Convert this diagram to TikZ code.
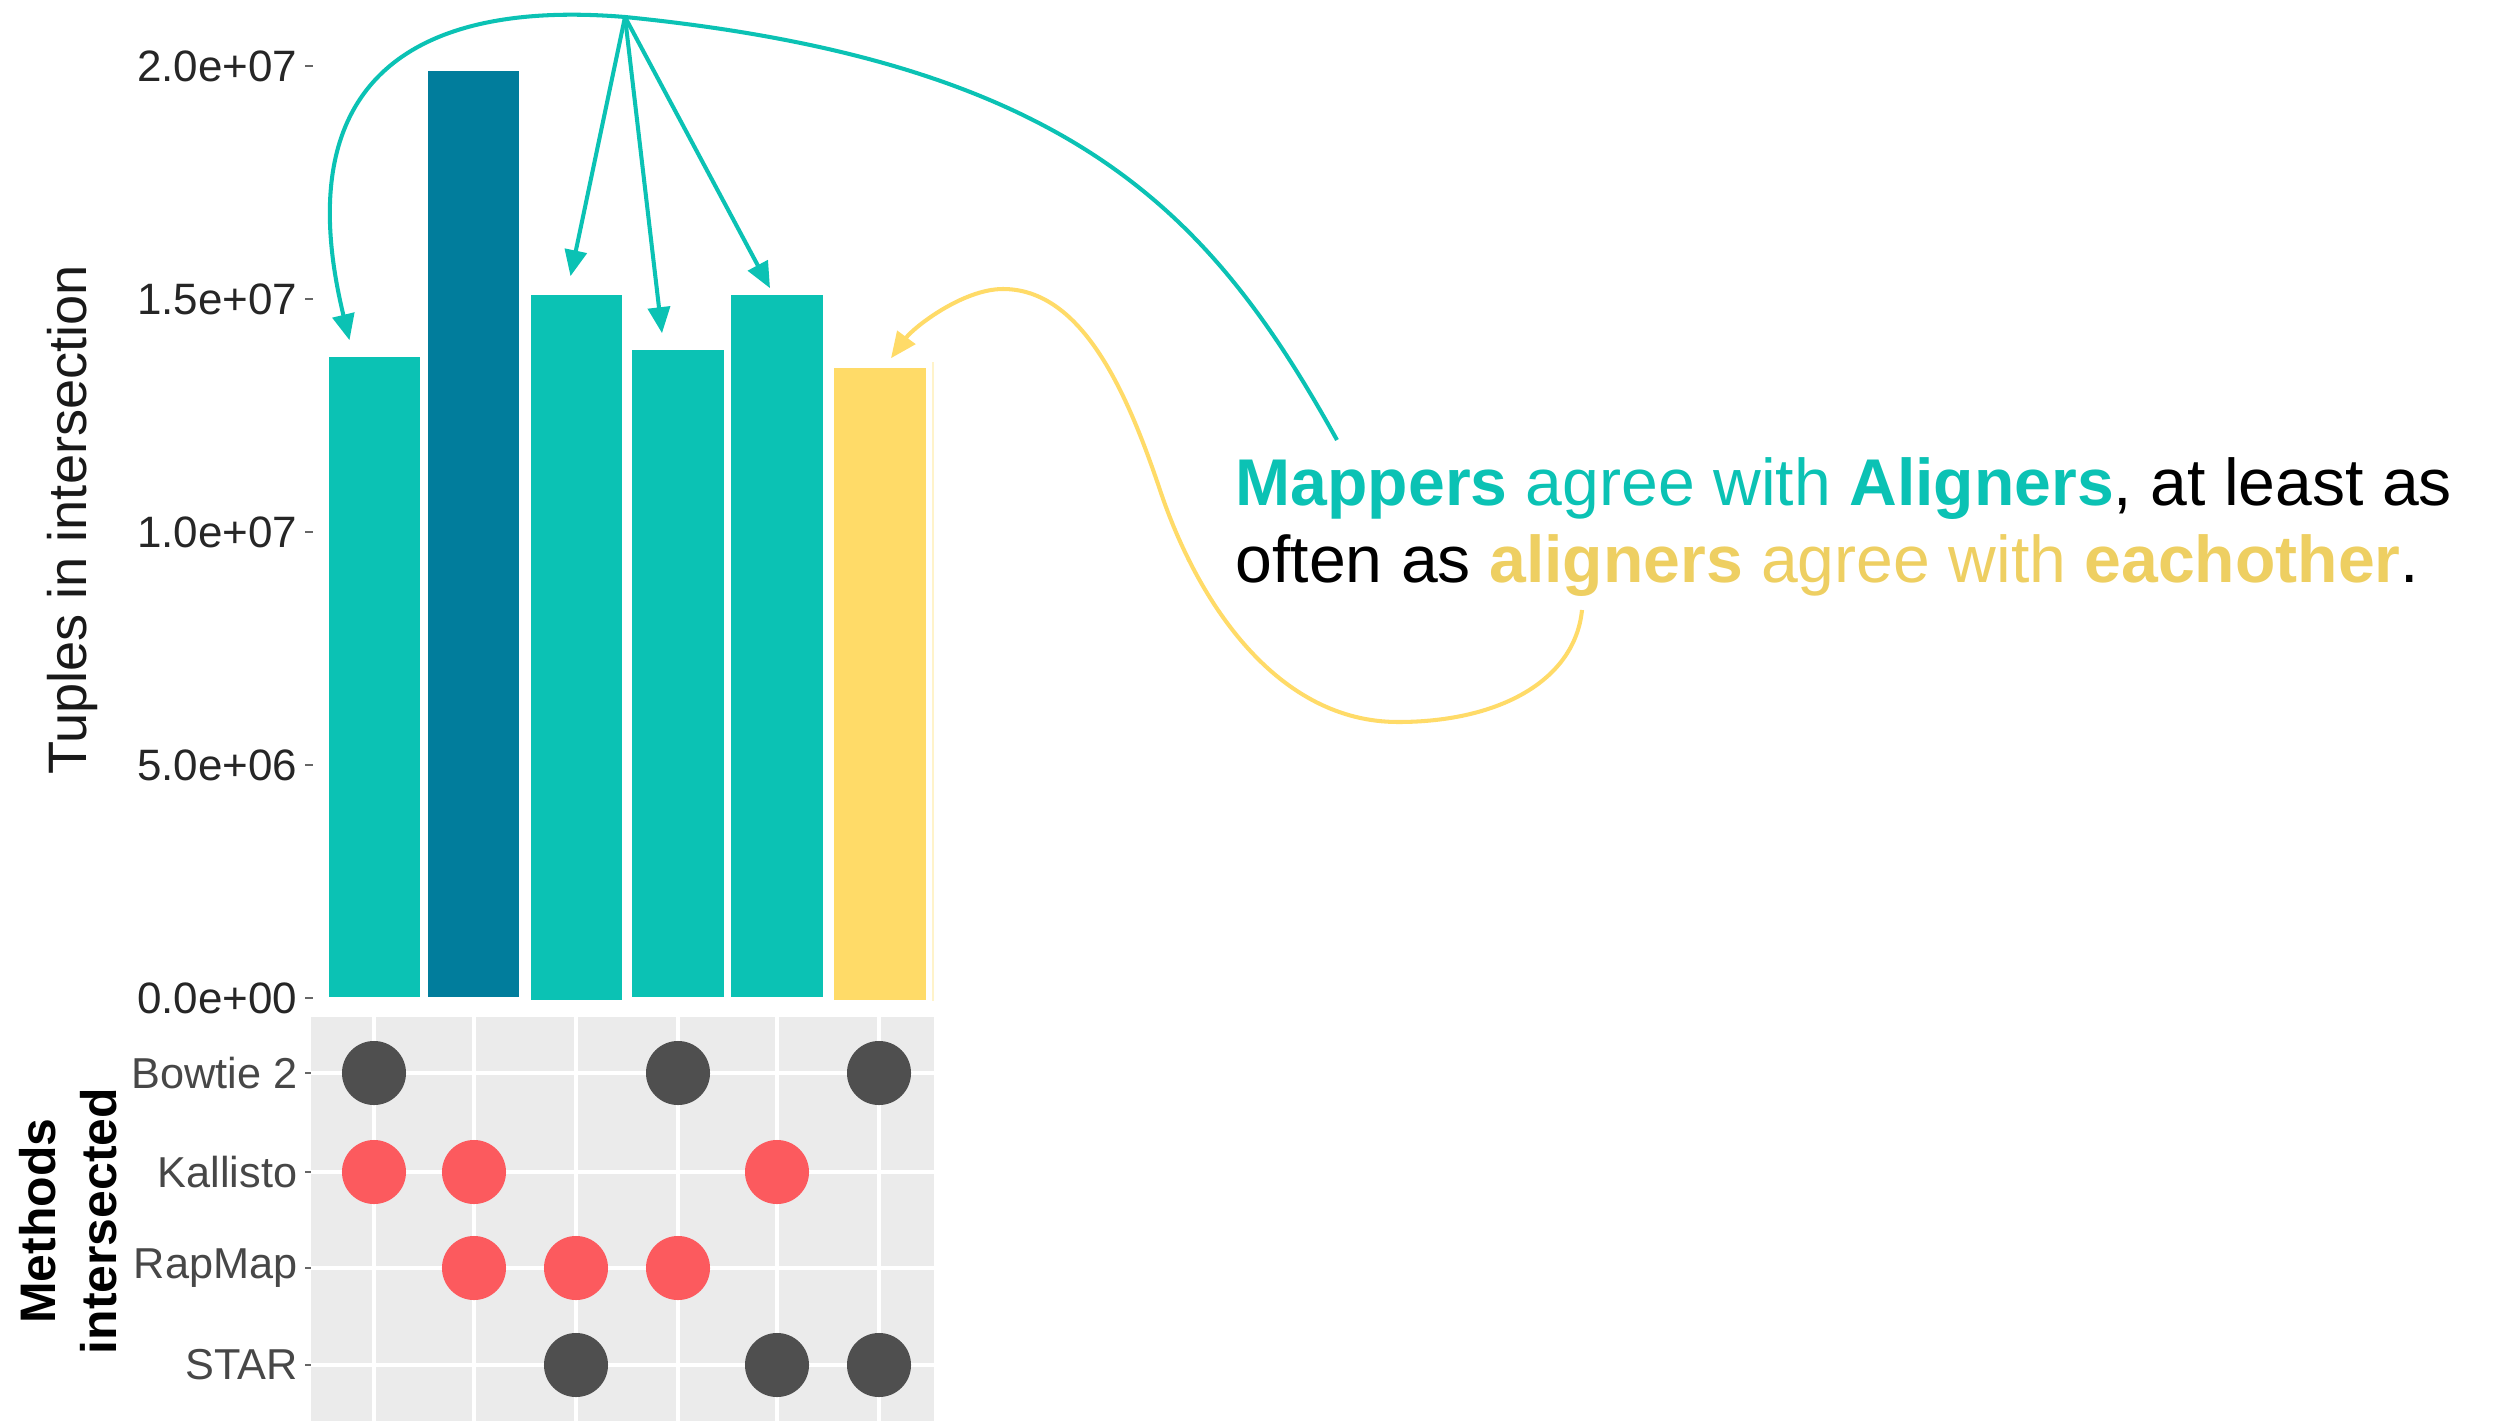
\documentclass[tikz,border=0pt]{standalone}
\usepackage{fontspec}
\setmainfont{Liberation Sans}
\usetikzlibrary{arrows.meta, positioning, calc}

\definecolor{mapteal}{HTML}{0BC2B4}
\definecolor{mapdark}{HTML}{017D9C}
\definecolor{alyellow}{HTML}{FFDB68}
\definecolor{altext}{HTML}{EECF62}
\definecolor{dotred}{HTML}{FC5A5E}
\definecolor{dotgrey}{HTML}{4F4F4F}
\definecolor{panelgrey}{HTML}{EBEBEB}

\begin{document}
\begin{tikzpicture}[
        x=0.01cm, y=-0.01cm,
        tuplebar/.style={rectangle, anchor=south, inner sep=0pt, minimum width=0.91cm},
        ticklab/.style={anchor=east, inner sep=0pt, text=black!85, font=\fontsize{12.5pt}{14pt}\selectfont},
        setlab/.style={anchor=east, inner sep=0pt, text=black!72, font=\fontsize{12.3pt}{14pt}\selectfont},
        setdot/.style={circle, inner sep=0pt, minimum size=0.64cm},
        note/.style={anchor=base west, inner sep=0pt, font=\fontsize{18.8pt}{22pt}\selectfont},
        pointer/.style={draw=mapteal, line width=1.15pt, -{Triangle[length=0.26cm, width=0.22cm]}},
        alpointer/.style={draw=alyellow, line width=1.15pt, -{Triangle[length=0.26cm, width=0.22cm]}}
    ]
        \useasboundingbox (0,0) rectangle (2493,1421);

        % bars
        \node[tuplebar, fill=mapteal, minimum height=6.40cm] (bar1) at (374.5,998) {};
        \node[tuplebar, fill=mapdark, minimum height=9.26cm] (bar2) at (473.5,998) {};
        \node[tuplebar, fill=mapteal, minimum height=7.05cm] (bar3) at (576.5,1001) {};
        \node[tuplebar, fill=mapteal, minimum height=6.47cm] (bar4) at (678,998) {};
        \node[tuplebar, fill=mapteal, minimum height=7.02cm] (bar5) at (777,998) {};
        \node[tuplebar, fill=alyellow, minimum height=6.32cm] (bar6) at (880,1001) {};
        \draw[alyellow!35, line width=0.6pt] (933,362) -- (933,1001);

        % y axis
        \foreach \lab/\yy in {2.0e+07/66, 1.5e+07/299, 1.0e+07/532, 5.0e+06/765, 0.0e+00/998} {
            \node[ticklab] (tick\yy) at (298,\yy) {\lab};
            \draw[black!60, line width=0.8pt] (305,\yy) -- (313,\yy);
        }
        \node[rotate=90, anchor=base, text=black!90, font=\fontsize{15.4pt}{18pt}\selectfont] (ytitle) at (87,520) {Tuples in intersection};

        % matrix
        \fill[panelgrey] (311,1017) rectangle (934,1421);
        \foreach \xx in {374,474,576,678,777,879}
            \draw[white, line width=0.9pt] (\xx,1017) -- (\xx,1421);
        \foreach \lab/\yy in {Bowtie 2/1073, Kallisto/1172, RapMap/1268, STAR/1365} {
            \draw[white, line width=0.9pt] (311,\yy) -- (934,\yy);
            \node[setlab] (set\yy) at (298,\yy) {\lab};
            \draw[black!60, line width=0.8pt] (305,\yy) -- (311,\yy);
        }
        \node[setdot, fill=dotgrey] (bow1) at (374,1073) {};
        \node[setdot, fill=dotgrey] (bow4) at (678,1073) {};
        \node[setdot, fill=dotgrey] (bow6) at (879,1073) {};
        \node[setdot, fill=dotred] (kal1) at (374,1172) {};
        \node[setdot, fill=dotred] (kal2) at (474,1172) {};
        \node[setdot, fill=dotred] (kal5) at (777,1172) {};
        \node[setdot, fill=dotred] (rap2) at (474,1268) {};
        \node[setdot, fill=dotred] (rap3) at (576,1268) {};
        \node[setdot, fill=dotred] (rap4) at (678,1268) {};
        \node[setdot, fill=dotgrey] (star3) at (576,1365) {};
        \node[setdot, fill=dotgrey] (star5) at (777,1365) {};
        \node[setdot, fill=dotgrey] (star6) at (879,1365) {};
        \node[rotate=90, align=center, font=\bfseries\fontsize{14.2pt}{17.4pt}\selectfont] (mtitle) at (68,1221) {Methods\\intersected};

        % annotation
        \node[note] (line1) at (1235,505) {\textcolor{mapteal}{\textbf{Mappers} agree with \textbf{Aligners}}, at least as};
        \node[note] (line2) at (1235,582) {often as \textcolor{altext}{\textbf{aligners} agree with \textbf{eachother}}.};

        \coordinate (hub) at (625,17);
        \coordinate (mapend) at (1337,440);
        \coordinate (alstart) at (1582,610);
        \coordinate (tip1) at ($(bar1.north)+(-25,-16)$);
        \coordinate (tip3) at ($(bar3.north)+(-6,-18)$);
        \coordinate (tip4) at ($(bar4.north)+(-16,-16)$);
        \coordinate (tip5) at ($(bar5.north)+(-7,-6)$);
        \coordinate (tip6) at ($(bar6.north)+(11,-9)$);

        \draw[mapteal, line width=1.15pt] (hub) .. controls (1075,62) and (1212,215) .. (mapend);
        \draw[pointer] (hub) .. controls (420,0) and (285,75) .. (tip1);
        \draw[pointer] (hub) -- (tip3);
        \draw[pointer] (hub) -- (tip4);
        \draw[pointer] (hub) -- (tip5);
        \draw[alpointer] (alstart) .. controls (1575,680) and (1500,722) .. (1398,722)
            .. controls (1278,722) and (1198,604) .. (1160,490)
            .. controls (1128,395) and (1083,289) .. (1003,289)
            .. controls (963,289) and (914,327) .. (tip6);
    \end{tikzpicture}
\end{document}
